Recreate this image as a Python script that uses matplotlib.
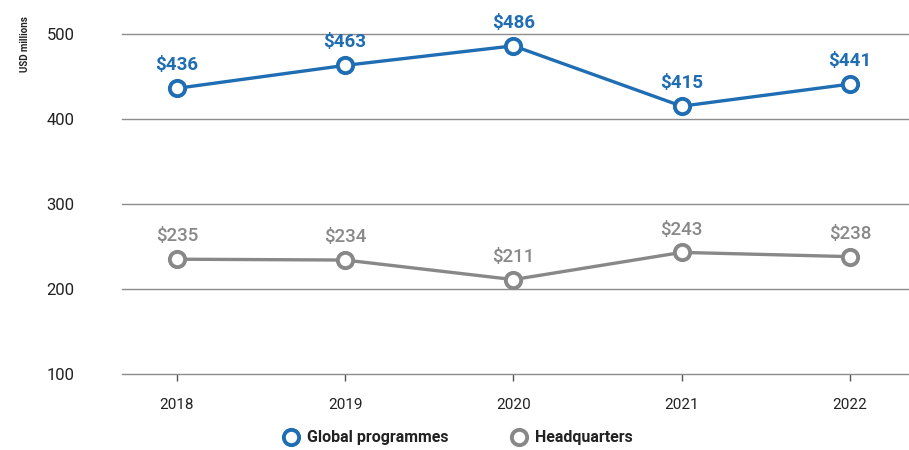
import matplotlib
matplotlib.use("Agg")
import matplotlib.pyplot as plt
from matplotlib.lines import Line2D

years = [2018, 2019, 2020, 2021, 2022]
global_programmes = [436, 463, 486, 415, 441]
headquarters = [235, 234, 211, 243, 238]
y_ticks = [100, 200, 300, 400, 500]

blue = "#1f6db3"
gray = "#888888"
grid = "#8c8c8c"

plt.rcParams['font.family'] = ['Roboto', 'DejaVu Sans']

fig = plt.figure(figsize=(9.09, 4.5), dpi=100)
ax = fig.add_axes([0.134, 0.169, 0.866, 0.7556])

ax.set_xlim(2017.673, 2022.351)
ax.set_ylim(100, 500)
ax.set_yticks(y_ticks)
ax.set_xticks(years)
ax.set_xticklabels([str(y) for y in years], fontsize=11, color="#222222")
ax.set_yticklabels([str(v) for v in y_ticks], fontsize=12, color="#222222")
for s in ax.spines.values():
    s.set_visible(False)
ax.yaxis.grid(True, color=grid, linewidth=1.0)
for gl in ax.get_ygridlines():
    gl.set_clip_on(False)
ax.set_axisbelow(True)
ax.tick_params(axis='y', length=0, pad=34)
ax.tick_params(axis='x', length=5, width=1, color="#555555", pad=12, direction='out')

ax.plot(years, global_programmes, color=blue, lw=2.4, marker='o', ms=11,
        mfc='white', mec=blue, mew=2.8, clip_on=False, zorder=3)
ax.plot(years, headquarters, color=gray, lw=2.4, marker='o', ms=11,
        mfc='white', mec=gray, mew=2.8, clip_on=False, zorder=3)

for x, v in zip(years, global_programmes):
    ax.annotate(f"${v}", (x, v), xytext=(0, 10), textcoords='offset points',
                ha='center', va='bottom', fontsize=13.5, fontweight='bold', color=blue)
for x, v in zip(years, headquarters):
    ax.annotate(f"${v}", (x, v), xytext=(0, 10), textcoords='offset points',
                ha='center', va='bottom', fontsize=13.5, fontweight='medium', color=gray)

fig.text(0.028, 0.965, "USD millions", rotation=90, ha='center', va='top',
         fontsize=7, fontweight='bold', color="#222222")

handles = [
    Line2D([], [], linestyle='none', marker='o', ms=11, mfc='white', mec=blue, mew=2.8),
    Line2D([], [], linestyle='none', marker='o', ms=11, mfc='white', mec=gray, mew=2.8),
]
leg = fig.legend(handles, ["Global programmes", "Headquarters"], loc='center',
                 bbox_to_anchor=(0.503, 0.027), ncol=2, frameon=False,
                 prop={'size': 11.5, 'weight': 'bold'}, columnspacing=3.8,
                 handletextpad=0.4, handlelength=1.2)
for t in leg.get_texts():
    t.set_color("#222222")

fig.savefig("out.png", dpi=100)
